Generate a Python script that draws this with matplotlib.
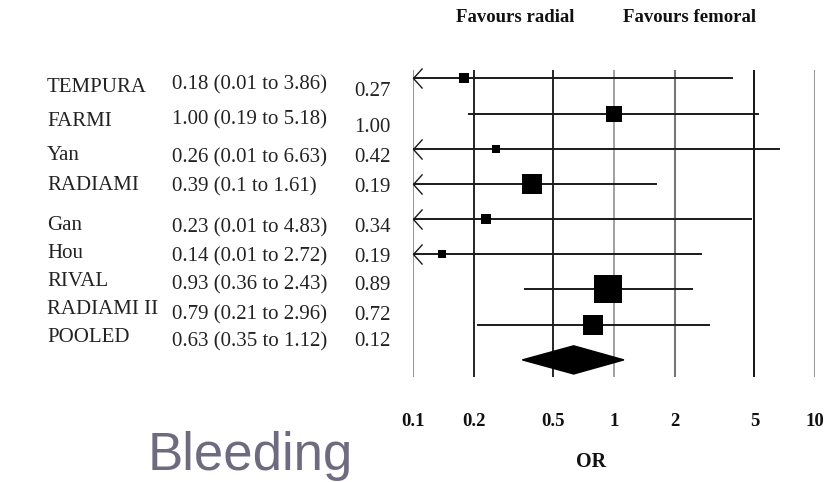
import numpy as np
import matplotlib
matplotlib.use("Agg")
import matplotlib.pyplot as plt
from matplotlib.path import Path

studies = ["TEMPURA", "FARMI", "Yan", "RADIAMI", "Gan", "Hou", "RIVAL", "RADIAMI II", "POOLED"]
odds = [0.18, 1.00, 0.26, 0.39, 0.23, 0.14, 0.93, 0.79, 0.63]
lower = [0.01, 0.19, 0.01, 0.1, 0.01, 0.01, 0.36, 0.21, 0.35]
upper = [3.86, 5.18, 6.63, 1.61, 4.83, 2.72, 2.43, 2.96, 1.12]
ci_text = ["0.18 (0.01 to 3.86)", "1.00 (0.19 to 5.18)", "0.26 (0.01 to 6.63)",
           "0.39 (0.1 to 1.61)", "0.23 (0.01 to 4.83)", "0.14 (0.01 to 2.72)",
           "0.93 (0.36 to 2.43)", "0.79 (0.21 to 2.96)", "0.63 (0.35 to 1.12)"]
p_values = ["0.27", "1.00", "0.42", "0.19", "0.34", "0.19", "0.89", "0.72", "0.12"]
weights = [3.9, 12.2, 3.1, 17.3, 3.9, 3.1, 37.5, 19.1]  # % weight, pooled has none
ticks = [0.1, 0.2, 0.5, 1, 2, 5, 10]
tick_labels = ["0.1", "0.2", "0.5", "1", "2", "5", "10"]

W, H = 840, 482
fig = plt.figure(figsize=(W / 100, H / 100), dpi=100)

# plot area in pixels: x 413..815, y 70..377
ax = fig.add_axes([413 / W, 1 - 377 / H, (815 - 413) / W, (377 - 70) / H])
ax.set_xscale("log")
ax.set_xlim(0.1, 10)
ax.set_ylim(8.486, -0.236)
ax.axis("off")

grid_style = {0.1: ("#999999", 1.5), 0.2: ("black", 1.2), 0.5: ("black", 1.2),
              1: ("#888888", 1.1), 2: ("#777777", 1.5), 5: ("black", 1.3),
              10: ("#999999", 1.5)}
for t in ticks:
    c, w = grid_style[t]
    ax.axvline(t, color=c, lw=w, zorder=1)

chevron = Path([(0.9, 1), (0, 0), (0.9, -1)], [Path.MOVETO, Path.LINETO, Path.LINETO])

xmin = ax.get_xlim()[0]
for i in range(len(studies) - 1):
    lo = max(lower[i], xmin)
    ax.plot([lo, upper[i]], [i, i], color="#1a1a1a", lw=1.4, zorder=2)
    if lower[i] <= xmin:
        ax.plot([xmin], [i], marker=chevron, markersize=14.5, mfc="none",
                mec="#1a1a1a", mew=1.0, zorder=3, clip_on=False)
    side = 4.57 * np.sqrt(weights[i])  # px
    ax.plot([odds[i]], [i], marker="s", markersize=side * 0.72, color="black",
            mec="black", mew=0, zorder=4)

k = len(studies) - 1
ax.fill([lower[k], odds[k], upper[k], odds[k]], [k, k - 0.4, k, k + 0.4],
        color="black", zorder=4)

# tick labels and axis title
tr = ax.get_xaxis_transform()
y_tick = (377 - 421.7) / 307
for t, lab in zip(ticks, tick_labels):
    ax.text(t, y_tick, lab, transform=tr, ha="center", va="center",
            fontsize=13.5, fontweight="bold", family="Liberation Serif", color="#111111")
fig.text(591 / W, 1 - 462 / H, "OR", ha="center", va="center",
         fontsize=14.5, fontweight="bold", family="Liberation Serif", color="#111111")

fig.text(515 / W, 1 - 17 / H, "Favours radial", ha="center", va="center",
         fontsize=13.5, fontweight="bold", family="Liberation Serif", color="#111111")
fig.text(690 / W, 1 - 17 / H, "Favours femoral", ha="center", va="center",
         fontsize=13.5, fontweight="bold", family="Liberation Serif", color="#111111")

# table text
name_y = [88, 122, 155, 185, 225, 253, 282, 310, 338]
ci_y = [85, 120, 158, 187, 228, 257, 285, 315, 342]
p_y = [92, 127, 158, 187, 228, 257, 285, 315, 342]
for i in range(len(studies)):
    fig.text(47 / W, 1 - name_y[i] / H, studies[i], ha="left", va="center",
             fontsize=15, family="Liberation Serif", color="#222222")
    fig.text(172 / W, 1 - ci_y[i] / H, ci_text[i], ha="left", va="center",
             fontsize=15, family="Liberation Serif", color="#222222")
    fig.text(354 / W, 1 - p_y[i] / H, p_values[i], ha="left", va="center",
             fontsize=15, family="Liberation Serif", color="#222222")

fig.text(250 / W, 1 - 456 / H, "Bleeding", ha="center", va="center",
         fontsize=38, family="Liberation Sans", color="#6e6b80")

fig.savefig("out.png", dpi=100)
